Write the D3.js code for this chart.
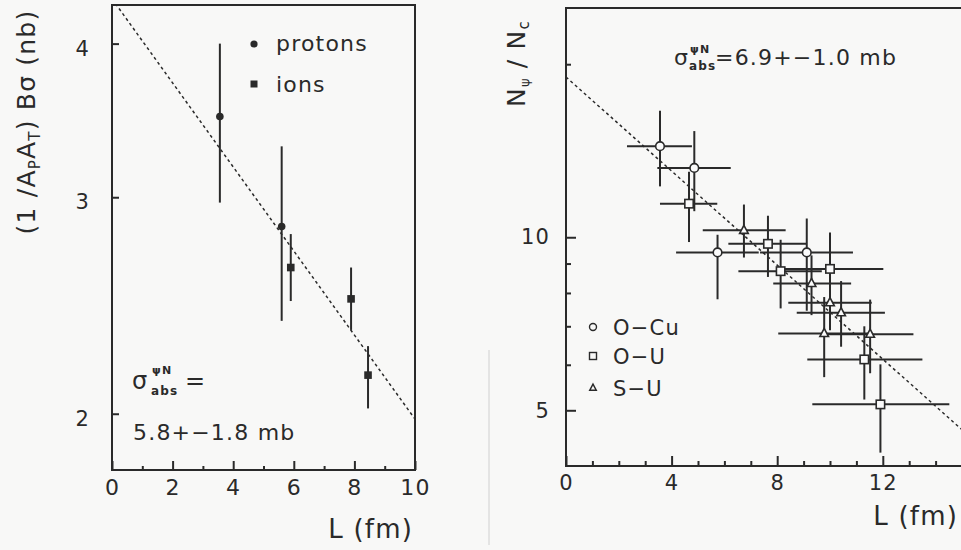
<!DOCTYPE html>
<html><head><meta charset="utf-8">
<script src="https://cdn.jsdelivr.net/npm/d3@7"></script>
<style>
html,body{margin:0;padding:0;background:#f8f8f7;}
svg{display:block;}
text{font-family:"DejaVu Sans",sans-serif;fill:#2a2a2a;letter-spacing:1.2px;}
</style></head>
<body>
<svg id="c" width="961" height="550"></svg>
<script>
// ---------- Left panel data ----------
const leftXTicksMajor = [0,2,4,6,8,10];
const leftXTicksMinor = [1,3,5,7,9];
const leftYTicks = [2,3,4];
const protonsL  = [3.56, 5.6];
const protonsV  = [3.49, 2.84];
const protonsLo = [2.97, 2.38];
const protonsHi = [4.00, 3.30];
const ionsL  = [5.9, 7.89, 8.45];
const ionsV  = [2.63, 2.48, 2.15];
const ionsLo = [2.47, 2.34, 2.02];
const ionsHi = [2.80, 2.63, 2.27];
const leftFit = [[0, 4.35], [10, 1.98]];

// ---------- Right panel data ----------
const rightXTicksMajor = [0,4,8,12];
const rightXTicksMinor = [1,2,3,5,6,7,9,10,11,13,14,15];
const rightYTicksMajor = [5,10];
const rightYTicksMinor = [6,7,8,9,20];
const oCuL   = [3.56, 4.86, 5.74, 9.12];
const oCuV   = [14.4, 13.2, 9.41, 9.41];
const oCuLlo = [2.31, 3.46, 4.17, 7.35];
const oCuLhi = [4.77, 6.24, 7.30, 10.87];
const oCuVlo = [12.26, 11.1, 7.8, 7.45];
const oCuVhi = [16.6, 15.3, 10.1, 10.78];
const oUL   = [4.66, 7.65, 8.13, 10.0, 11.3, 11.91];
const oUV   = [11.44, 9.74, 8.73, 8.81, 6.13, 5.12];
const oULlo = [3.56, 6.15, 6.53, 8.0, 9.14, 9.33];
const oULhi = [5.73, 9.12, 9.69, 12.02, 13.5, 14.52];
const oUVlo = [9.81, 8.53, 7.52, 6.89, 5.22, 4.22];
const oUVhi = [13.0, 10.9, 9.9, 10.19, 7.0, 6.01];
const sUL   = [6.74, 9.3, 10.0, 9.78, 10.42, 11.52];
const sUV   = [10.28, 8.31, 7.69, 6.80, 7.39, 6.78];
const sULlo = [5.18, 7.85, 8.42, 8.04, 8.74, 9.65];
const sULhi = [8.32, 10.8, 11.58, 11.5, 12.08, 13.16];
const sUVlo = [9.22, 7.32, 7.0, 5.71, 6.45, 5.8];
const sUVhi = [11.4, 9.3, 8.5, 7.87, 8.39, 7.79];
const rightFit = [[0, 19.0], [16, 4.21]];

const ink = "#2a2a2a";
const svg = d3.select("#c");

// ================= LEFT PANEL =================
const xL = d3.scaleLinear().domain([0,10]).range([112,415]);
const yL = d3.scaleLog().domain([1.80,4.30]).range([470,5]);
const gL = svg.append("g");

gL.append("clipPath").attr("id","clipL").append("rect")
  .attr("x",112).attr("y",5).attr("width",303).attr("height",465);

gL.append("line").attr("clip-path","url(#clipL)")
  .attr("x1",xL(leftFit[0][0])).attr("y1",yL(leftFit[0][1]))
  .attr("x2",xL(leftFit[1][0])).attr("y2",yL(leftFit[1][1]))
  .attr("stroke",ink).attr("stroke-width",1.5).attr("stroke-dasharray","3,3");

function styleAxis(g){ g.select(".domain").remove(); g.selectAll(".tick line").attr("stroke",ink).attr("stroke-width",2); g.selectAll("text").attr("fill",ink).attr("font-family","DejaVu Sans, sans-serif"); }
gL.append("g").attr("transform","translate(0,470)")
  .call(d3.axisBottom(xL).tickValues(leftXTicksMajor).tickSizeInner(-9).tickSizeOuter(0).tickPadding(9).tickFormat(d3.format("d")))
  .call(styleAxis).selectAll("text").attr("font-size",22);
gL.append("g").attr("transform","translate(0,470)")
  .call(d3.axisBottom(xL).tickValues(leftXTicksMinor).tickSizeInner(-4).tickSizeOuter(0).tickFormat(""))
  .call(styleAxis);
gL.append("g").attr("transform","translate(112,0)")
  .call(d3.axisLeft(yL).tickValues(leftYTicks).tickSizeInner(-7).tickSizeOuter(0).tickPadding(22).tickFormat(d3.format("d")))
  .call(styleAxis).selectAll("text").attr("font-size",21).attr("dy","0.55em");

gL.append("rect").attr("x",112).attr("y",5).attr("width",303).attr("height",465)
  .attr("fill","none").attr("stroke",ink).attr("stroke-width",2);

function vbars(g, xs, ys, Ls, los, his){
  g.selectAll(null).data(Ls).enter().append("line")
   .attr("x1",(d)=>xs(d)).attr("x2",(d)=>xs(d))
   .attr("y1",(d,i)=>ys(los[i])).attr("y2",(d,i)=>ys(his[i]))
   .attr("stroke",ink).attr("stroke-width",2);
}
vbars(gL, xL, yL, protonsL, protonsLo, protonsHi);
vbars(gL, xL, yL, ionsL, ionsLo, ionsHi);
gL.selectAll(null).data(protonsL).enter().append("circle")
  .attr("cx",d=>xL(d)).attr("cy",(d,i)=>yL(protonsV[i])).attr("r",3.8).attr("fill",ink);
gL.selectAll(null).data(ionsL).enter().append("rect")
  .attr("x",d=>xL(d)-3.8).attr("y",(d,i)=>yL(ionsV[i])-3.8).attr("width",7.6).attr("height",7.6).attr("fill",ink);

gL.append("circle").attr("cx",254).attr("cy",44).attr("r",3.6).attr("fill",ink);
gL.append("text").attr("x",276).attr("y",51).attr("font-size",22).text("protons");
gL.append("rect").attr("x",250.5).attr("y",80.5).attr("width",7).attr("height",7).attr("fill",ink);
gL.append("text").attr("x",276).attr("y",92).attr("font-size",22).text("ions");

gL.append("text").attr("x",132).attr("y",389).attr("font-size",24).attr("letter-spacing","0px").text("σ");
gL.append("text").attr("x",151).attr("y",395).attr("font-size",12).attr("font-weight","bold").attr("letter-spacing","0.5px").text("abs");
gL.append("text").attr("x",152).attr("y",374).attr("font-size",11).attr("font-weight","bold").attr("letter-spacing","0.3px").text("ψN");
gL.append("text").attr("x",185).attr("y",389).attr("font-size",24).text("=");
gL.append("text").attr("x",133).attr("y",440).attr("font-size",22).attr("letter-spacing","1.8px").text("5.8+−1.8 mb");

gL.append("text").attr("x",413).attr("y",538).attr("font-size",26).attr("text-anchor","end").text("L (fm)");
const yt = gL.append("text").attr("transform","translate(35,122) rotate(-90)")
  .attr("text-anchor","middle").attr("font-size",25);
yt.append("tspan").text("(1 /A");
yt.append("tspan").attr("font-size",15).attr("dy",5).text("P");
yt.append("tspan").attr("dy",-5).text("A");
yt.append("tspan").attr("font-size",15).attr("dy",5).text("T");
yt.append("tspan").attr("dy",-5).text(") Bσ (nb)");

svg.append("line").attr("x1",489).attr("x2",489).attr("y1",350).attr("y2",545)
  .attr("stroke","#d0d0d0").attr("stroke-width",1);

// ================= RIGHT PANEL =================
const xR = d3.scaleLinear().domain([0,16]).range([566,566+16*26.4]);
const yR = d3.scaleLog().domain([4.0,25.05]).range([466,8]);
const gR = svg.append("g");
gR.append("clipPath").attr("id","clipR").append("rect")
  .attr("x",566).attr("y",8).attr("width",400).attr("height",458);

gR.append("line").attr("clip-path","url(#clipR)")
  .attr("x1",xR(rightFit[0][0])).attr("y1",yR(rightFit[0][1]))
  .attr("x2",xR(rightFit[1][0])).attr("y2",yR(rightFit[1][1]))
  .attr("stroke",ink).attr("stroke-width",1.5).attr("stroke-dasharray","3,3");

gR.append("g").attr("transform","translate(0,466)")
  .call(d3.axisBottom(xR).tickValues(rightXTicksMajor).tickSizeInner(-10).tickSizeOuter(0).tickPadding(9).tickFormat(d3.format("d")))
  .call(styleAxis).selectAll("text").attr("font-size",21);
gR.append("g").attr("transform","translate(0,466)")
  .call(d3.axisBottom(xR).tickValues(rightXTicksMinor).tickSizeInner(-5).tickSizeOuter(0).tickFormat(""))
  .call(styleAxis);
gR.append("g").attr("transform","translate(566,0)")
  .call(d3.axisLeft(yR).tickValues(rightYTicksMajor).tickSizeInner(-10).tickSizeOuter(0).tickPadding(16).tickFormat(d3.format("d")))
  .call(styleAxis).selectAll("text").attr("font-size",21);
gR.append("g").attr("transform","translate(566,0)")
  .call(d3.axisLeft(yR).tickValues(rightYTicksMinor).tickSizeInner(-5).tickSizeOuter(0).tickFormat(""))
  .call(styleAxis);

gR.append("rect").attr("x",566).attr("y",8).attr("width",420).attr("height",458)
  .attr("fill","none").attr("stroke",ink).attr("stroke-width",2);

function errs(g, L, V, Llo, Lhi, Vlo, Vhi){
  g.selectAll(null).data(L).enter().append("line")
   .attr("x1",(d,i)=>xR(Llo[i])).attr("x2",(d,i)=>xR(Lhi[i]))
   .attr("y1",(d,i)=>yR(V[i])).attr("y2",(d,i)=>yR(V[i]))
   .attr("stroke",ink).attr("stroke-width",2);
  g.selectAll(null).data(L).enter().append("line")
   .attr("x1",d=>xR(d)).attr("x2",d=>xR(d))
   .attr("y1",(d,i)=>yR(Vlo[i])).attr("y2",(d,i)=>yR(Vhi[i]))
   .attr("stroke",ink).attr("stroke-width",2);
}
errs(gR, oCuL, oCuV, oCuLlo, oCuLhi, oCuVlo, oCuVhi);
errs(gR, oUL, oUV, oULlo, oULhi, oUVlo, oUVhi);
errs(gR, sUL, sUV, sULlo, sULhi, sUVlo, sUVhi);

const tri = (cx,cy,s)=>`M${cx},${cy-s*0.85}L${cx+s*0.72},${cy+s*0.5}L${cx-s*0.72},${cy+s*0.5}Z`;
gR.selectAll(null).data(oCuL).enter().append("circle")
  .attr("cx",d=>xR(d)).attr("cy",(d,i)=>yR(oCuV[i])).attr("r",4.3)
  .attr("fill","#fbfbfb").attr("stroke",ink).attr("stroke-width",1.6);
gR.selectAll(null).data(oUL).enter().append("rect")
  .attr("x",d=>xR(d)-4.2).attr("y",(d,i)=>yR(oUV[i])-4.2).attr("width",8.4).attr("height",8.4)
  .attr("fill","#fbfbfb").attr("stroke",ink).attr("stroke-width",1.6);
gR.selectAll(null).data(sUL).enter().append("path")
  .attr("d",(d,i)=>tri(xR(d),yR(sUV[i]),6))
  .attr("fill","#fbfbfb").attr("stroke",ink).attr("stroke-width",1.6);

const legNames = ["O−Cu","O−U","S−U"];
const legY = [327,356,388];
gR.append("circle").attr("cx",593).attr("cy",legY[0]).attr("r",3.5).attr("fill","none").attr("stroke",ink).attr("stroke-width",1.4);
gR.append("rect").attr("x",589.5).attr("y",legY[1]-3.5).attr("width",7).attr("height",7).attr("fill","none").attr("stroke",ink).attr("stroke-width",1.4);
gR.append("path").attr("d",tri(593,legY[2],4.6)).attr("fill","none").attr("stroke",ink).attr("stroke-width",1.4);
gR.selectAll(null).data(legNames).enter().append("text")
  .attr("x",613).attr("y",(d,i)=>legY[i]+8).attr("font-size",21).text(d=>d);

gR.append("text").attr("x",674).attr("y",65).attr("font-size",22).attr("letter-spacing","0px").text("σ");
gR.append("text").attr("x",689).attr("y",70).attr("font-size",12).attr("font-weight","bold").attr("letter-spacing","0.5px").text("abs");
gR.append("text").attr("x",690).attr("y",53).attr("font-size",11).attr("font-weight","bold").attr("letter-spacing","0.3px").text("ψN");
gR.append("text").attr("x",715).attr("y",65).attr("font-size",22).attr("letter-spacing","1.5px").text("=6.9+−1.0 mb");

gR.append("text").attr("x",958).attr("y",525).attr("font-size",26).attr("text-anchor","end").text("L (fm)");
const ytR = gR.append("text").attr("transform","translate(525,107) rotate(-90)").attr("font-size",25);
ytR.append("tspan").text("N");
ytR.append("tspan").attr("font-size",13).attr("dy",4).text("ψ");
ytR.append("tspan").attr("dy",-4).text(" / N");
ytR.append("tspan").attr("font-size",15).attr("dy",4).text("c");
</script>
</body></html>
